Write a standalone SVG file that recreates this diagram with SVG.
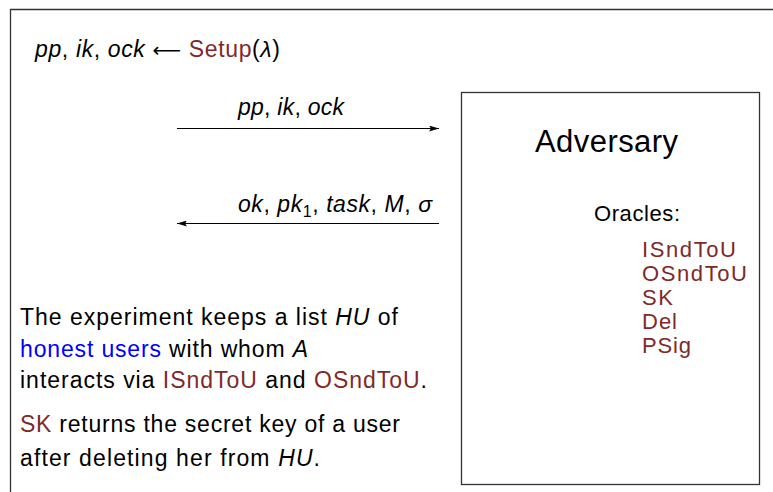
<svg xmlns="http://www.w3.org/2000/svg" width="773" height="492" viewBox="0 0 773 492">
  <defs>
    <marker id="arrowhead" viewBox="0 0 10 6" refX="10" refY="3" markerWidth="10" markerHeight="6" markerUnits="userSpaceOnUse" orient="auto">
      <path d="M0,0 L10,3 L0,6 L2,3 Z" fill="#000"/>
    </marker>
  </defs>
  <style>
    text { font-family: "Liberation Sans", "DejaVu Sans", sans-serif; fill: #000; }
    .m { font-style: italic; }
    .arr { font-family: "DejaVu Sans", sans-serif; font-size: 20px; }
    text.alert, .alert { fill: #7f2a2a; }
    .blue { fill: #0000ff; }
    .body { font-size: 23px; }
    .oracle { font-size: 22px; }
    .frame { fill: none; stroke: #333; stroke-width: 1.3; }
    .edge { stroke: #000; stroke-width: 1.2; fill: none; marker-end: url(#arrowhead); }
  </style>
  <rect width="773" height="492" fill="#fff"/>

  <!-- outer frame of the experiment (open to right and bottom) -->
  <path class="frame" d="M10.5,492 V9.5 H773"/>

  <g id="setup">
    <text class="body" x="35" y="57" textLength="245" lengthAdjust="spacing"><tspan class="m">pp</tspan>, <tspan class="m">ik</tspan>, <tspan class="m">ock</tspan> <tspan class="arr">⟵</tspan> <tspan class="alert">Setup</tspan>(<tspan class="m">λ</tspan>)</text>
  </g>

  <g id="adversary">
    <rect class="frame" x="461.5" y="92.5" width="298" height="392"/>
    <text x="535" y="152" font-size="31" textLength="143" lengthAdjust="spacing">Adversary</text>
    <text x="594" y="221" font-size="22" textLength="86" lengthAdjust="spacing">Oracles:</text>
    <text class="alert oracle" x="642" y="257" textLength="94" lengthAdjust="spacing">ISndToU</text>
    <text class="alert oracle" x="642" y="281" textLength="105" lengthAdjust="spacing">OSndToU</text>
    <text class="alert oracle" x="642" y="305" textLength="31" lengthAdjust="spacing">SK</text>
    <text class="alert oracle" x="642" y="329" textLength="35" lengthAdjust="spacing">Del</text>
    <text class="alert oracle" x="642" y="353" textLength="49" lengthAdjust="spacing">PSig</text>
  </g>

  <g id="connectors">
    <line class="edge" x1="177" y1="128.5" x2="439" y2="128.5"/>
    <text class="body" x="238" y="115" textLength="106" lengthAdjust="spacing"><tspan class="m">pp</tspan>, <tspan class="m">ik</tspan>, <tspan class="m">ock</tspan></text>
    <line class="edge" x1="439" y1="223.5" x2="177" y2="223.5"/>
    <text class="body" x="238" y="212" textLength="194" lengthAdjust="spacing"><tspan class="m">ok</tspan>, <tspan class="m">pk</tspan><tspan font-size="16" dy="5">1</tspan><tspan dy="-5">, </tspan><tspan class="m">task</tspan>, <tspan class="m">M</tspan>, <tspan class="m">σ</tspan></text>
  </g>

  <g id="notes">
    <text class="body" x="20" y="325" textLength="378" lengthAdjust="spacing">The experiment keeps a list <tspan class="m">HU</tspan> of</text>
    <text class="body" x="20" y="357" textLength="288" lengthAdjust="spacing"><tspan class="blue">honest users</tspan> with whom <tspan class="m">A</tspan></text>
    <text class="body" x="20" y="388" textLength="407" lengthAdjust="spacing">interacts via <tspan class="alert">ISndToU</tspan> and <tspan class="alert">OSndToU</tspan>.</text>
    <text class="body" x="20" y="432" textLength="380" lengthAdjust="spacing"><tspan class="alert">SK</tspan> returns the secret key of a user</text>
    <text class="body" x="20" y="466" textLength="300" lengthAdjust="spacing">after deleting her from <tspan class="m">HU</tspan>.</text>
  </g>
</svg>
